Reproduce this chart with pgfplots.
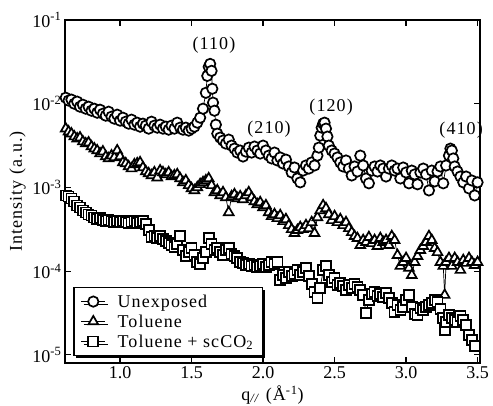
\documentclass[border=0pt]{standalone}
\usepackage{fontspec}
\setmainfont{Liberation Serif}
\newfontfamily\labelfont[LetterSpace=6]{Liberation Serif}
\usepackage{pgfplots}
\pgfplotsset{compat=1.18}
\usetikzlibrary{shadows}

\begin{document}
\begin{tikzpicture}
\path[use as bounding box] (-65bp,-43bp) rectangle (428bp,363bp);
\begin{axis}[
  at={(0,0)}, anchor=south west,
  scale only axis, width=415bp, height=343bp,
  ymode=log,
  xmin=0.615, xmax=3.517, ymin=8e-6, ymax=1e-1,
  xtick={1,1.5,2,2.5,3,3.5},
  xticklabels={1.0,1.5,2.0,2.5,3.0,3.5},
  ytick={1e-5,1e-4,1e-3,1e-2,1e-1},
  yticklabels={10\textsuperscript{-5},10\textsuperscript{-4},10\textsuperscript{-3},10\textsuperscript{-2},10\textsuperscript{-1}},
  yminorticks=false, xminorticks=false,
  tick align=inside, major tick length=6bp,
  axis line style={line width=1.4bp},
  every tick/.style={black, line width=1.2bp},
  tick label style={font=\fontsize{18bp}{21bp}\selectfont},
  label style={font=\labelfont\fontsize{18bp}{21bp}\selectfont},
  xlabel={q\textsubscript{\textit{//}} (Å\textsuperscript{-1})},
  ylabel={Intensity (a.u.)},
  clip=false,
  every axis plot/.append style={black, line width=0.7bp,
    mark options={solid, fill=white, line width=1.7bp}},
  legend style={at={(0.02,0.02)}, anchor=south west, draw=black,
    line width=1.3bp, fill=white,
    font=\labelfont\fontsize{18bp}{21bp}\selectfont,
    drop shadow={shadow xshift=2.5bp, shadow yshift=-2.5bp, fill=black, opacity=1},
    inner xsep=7bp, inner ysep=5bp, row sep=2bp, column sep=10bp},
  legend cell align=left,
  legend image code/.code={\draw[mark repeat=2,mark phase=2]
    plot coordinates {(0bp,0bp) (12bp,0bp) (24bp,0bp)};},
]

% Unexposed film
\addplot[mark=*, mark size=5.2bp] coordinates {
(0.62,1.18e-2)(0.64,1.09e-2)(0.66,1.12e-2)(0.68,1.00e-2)(0.70,1.06e-2)(0.72,9.21e-3)(0.74,9.73e-3)(0.76,8.72e-3)(0.78,9.21e-3)(0.80,8.25e-3)
(0.82,8.72e-3)(0.84,7.81e-3)(0.86,8.48e-3)(0.88,7.60e-3)(0.90,7.20e-3)(0.92,8.03e-3)(0.94,7.00e-3)(0.96,6.63e-3)(0.98,7.40e-3)(1.00,6.28e-3)
(1.02,6.81e-3)(1.04,6.10e-3)(1.06,5.78e-3)(1.08,6.45e-3)(1.10,5.62e-3)(1.12,5.94e-3)(1.14,5.32e-3)(1.16,5.78e-3)(1.18,5.47e-3)(1.20,5.04e-3)
(1.22,6.10e-3)(1.24,5.47e-3)(1.26,5.18e-3)(1.28,5.62e-3)(1.30,5.04e-3)(1.32,5.32e-3)(1.34,4.90e-3)(1.36,5.47e-3)(1.38,5.04e-3)(1.40,5.94e-3)
(1.42,5.18e-3)(1.44,4.90e-3)(1.46,5.18e-3)(1.48,4.77e-3)(1.50,5.04e-3)(1.52,5.32e-3)(1.54,5.94e-3)(1.56,6.81e-3)(1.58,8.72e-3)(1.60,1.35e-2)
(1.61,2.15e-2)(1.62,2.76e-2)(1.63,2.99e-2)(1.64,2.47e-2)(1.645,1.51e-2)(1.65,1.03e-2)(1.66,8.25e-3)(1.67,5.62e-3)(1.68,4.39e-3)(1.70,3.94e-3)
(1.72,3.63e-3)(1.74,3.34e-3)(1.76,3.73e-3)(1.78,3.16e-3)(1.80,2.91e-3)(1.82,2.61e-3)(1.84,2.76e-3)(1.86,2.34e-3)(1.88,2.68e-3)(1.90,2.99e-3)
(1.92,2.61e-3)(1.94,3.08e-3)(1.96,2.76e-3)(1.98,2.54e-3)(2.00,3.16e-3)(2.02,2.76e-3)(2.04,2.40e-3)(2.06,2.22e-3)(2.08,2.61e-3)(2.10,2.10e-3)
(2.12,2.28e-3)(2.14,1.93e-3)(2.16,2.15e-3)(2.18,1.78e-3)(2.20,1.51e-3)(2.22,1.73e-3)(2.24,1.28e-3)(2.26,1.15e-3)(2.28,1.59e-3)(2.30,1.83e-3)
(2.32,1.68e-3)(2.34,1.99e-3)(2.36,1.83e-3)(2.38,2.40e-3)(2.39,2.99e-3)(2.40,4.16e-3)(2.41,5.18e-3)(2.42,5.78e-3)(2.43,5.94e-3)(2.44,5.04e-3)
(2.45,4.05e-3)(2.46,3.16e-3)(2.48,2.76e-3)(2.50,2.54e-3)(2.52,2.28e-3)(2.54,1.99e-3)(2.56,1.78e-3)(2.58,2.10e-3)(2.60,1.68e-3)(2.62,1.39e-3)
(2.64,1.78e-3)(2.66,1.55e-3)(2.68,2.40e-3)(2.70,1.83e-3)(2.72,1.28e-3)(2.74,1.12e-3)(2.76,1.59e-3)(2.78,1.78e-3)(2.80,1.55e-3)(2.82,1.83e-3)
(2.84,1.68e-3)(2.86,1.35e-3)(2.88,1.68e-3)(2.90,1.83e-3)(2.92,1.59e-3)(2.94,1.68e-3)(2.96,1.28e-3)(2.98,1.73e-3)(3.00,1.51e-3)(3.02,1.12e-3)
(3.04,1.59e-3)(3.06,1.43e-3)(3.08,1.09e-3)(3.10,1.51e-3)(3.12,1.68e-3)(3.14,1.43e-3)(3.16,9.21e-4)(3.18,1.59e-3)(3.20,1.18e-3)(3.22,1.55e-3)
(3.24,1.78e-3)(3.26,1.12e-3)(3.28,1.83e-3)(3.30,2.40e-3)(3.31,2.91e-3)(3.32,2.76e-3)(3.33,2.22e-3)(3.34,1.78e-3)(3.36,1.55e-3)(3.38,1.35e-3)
(3.40,1.15e-3)(3.42,1.35e-3)(3.44,9.73e-4)(3.46,1.21e-3)(3.48,8.03e-4)(3.50,1.15e-3)
};
\addlegendentry{Unexposed}

% Toluene-exposed film
\addplot[mark=triangle*, mark size=5.6bp] coordinates {
(0.62,5.04e-3)(0.64,4.64e-3)(0.66,4.39e-3)(0.68,4.05e-3)(0.70,3.83e-3)(0.72,3.94e-3)(0.74,3.53e-3)(0.76,3.34e-3)(0.78,3.43e-3)(0.80,3.08e-3)
(0.82,2.91e-3)(0.84,2.76e-3)(0.86,2.54e-3)(0.88,2.68e-3)(0.90,2.34e-3)(0.92,2.22e-3)(0.94,2.40e-3)(0.96,2.28e-3)(0.98,2.76e-3)(1.00,2.34e-3)
(1.02,1.99e-3)(1.04,1.93e-3)(1.06,1.78e-3)(1.08,1.68e-3)(1.10,1.88e-3)(1.12,1.93e-3)(1.14,1.99e-3)(1.16,1.73e-3)(1.18,1.55e-3)(1.20,1.47e-3)
(1.22,1.39e-3)(1.24,1.51e-3)(1.26,1.31e-3)(1.28,1.59e-3)(1.30,1.51e-3)(1.32,1.43e-3)(1.34,1.51e-3)(1.36,1.35e-3)(1.38,1.39e-3)(1.40,1.43e-3)
(1.42,1.28e-3)(1.44,1.15e-3)(1.46,1.21e-3)(1.48,1.06e-3)(1.50,9.73e-4)(1.52,9.21e-4)(1.54,1.00e-3)(1.56,1.09e-3)(1.58,1.15e-3)(1.60,1.21e-3)
(1.62,1.28e-3)(1.64,1.06e-3)(1.66,8.72e-4)(1.68,9.21e-4)(1.70,8.03e-4)(1.72,8.72e-4)(1.74,7.60e-4)(1.76,5.04e-4)(1.78,7.81e-4)(1.80,8.25e-4)
(1.82,7.40e-4)(1.84,7.81e-4)(1.86,7.20e-4)(1.88,8.03e-4)(1.90,8.72e-4)(1.92,7.60e-4)(1.94,6.81e-4)(1.96,6.28e-4)(1.98,6.63e-4)(2.00,5.78e-4)
(2.02,6.10e-4)(2.04,5.04e-4)(2.06,4.52e-4)(2.08,4.77e-4)(2.10,4.28e-4)(2.12,4.64e-4)(2.14,3.94e-4)(2.16,4.16e-4)(2.18,3.53e-4)(2.20,3.16e-4)
(2.22,2.84e-4)(2.24,3.08e-4)(2.26,3.34e-4)(2.28,3.16e-4)(2.30,3.53e-4)(2.32,3.25e-4)(2.34,3.83e-4)(2.36,2.84e-4)(2.38,4.39e-4)(2.40,5.32e-4)
(2.42,6.10e-4)(2.44,5.62e-4)(2.46,4.77e-4)(2.48,4.05e-4)(2.50,4.52e-4)(2.52,3.83e-4)(2.54,4.16e-4)(2.56,3.53e-4)(2.58,3.83e-4)(2.60,3.25e-4)
(2.62,2.91e-4)(2.64,2.61e-4)(2.66,2.47e-4)(2.68,2.04e-4)(2.70,2.34e-4)(2.72,2.22e-4)(2.74,2.54e-4)(2.76,2.15e-4)(2.78,2.34e-4)(2.80,1.99e-4)
(2.82,2.47e-4)(2.84,2.22e-4)(2.86,2.34e-4)(2.88,2.04e-4)(2.90,2.61e-4)(2.92,2.34e-4)(2.94,1.55e-4)(2.96,1.15e-4)(2.98,1.28e-4)(3.00,1.43e-4)
(3.02,1.09e-4)(3.04,8.96e-5)(3.06,1.28e-4)(3.08,1.51e-4)(3.10,1.78e-4)(3.12,1.99e-4)(3.14,2.22e-4)(3.16,2.61e-4)(3.18,2.34e-4)(3.20,1.88e-4)
(3.22,1.68e-4)(3.24,1.28e-4)(3.26,1.15e-4)(3.27,5.18e-5)(3.28,1.28e-4)(3.30,1.43e-4)(3.32,1.15e-4)(3.34,1.43e-4)(3.36,1.28e-4)(3.38,1.03e-4)
(3.40,1.35e-4)(3.42,1.25e-4)(3.44,1.43e-4)(3.46,1.28e-4)(3.48,1.18e-4)(3.50,1.28e-4)
};
\addlegendentry{Toluene}

% Toluene + supercritical CO2
\addplot[mark=square*, mark size=5.0bp] coordinates {
(0.62,8.03e-4)(0.64,7.81e-4)(0.66,7.40e-4)(0.68,6.81e-4)(0.70,6.10e-4)(0.72,5.78e-4)(0.74,5.32e-4)(0.76,5.04e-4)(0.78,4.77e-4)(0.80,4.64e-4)
(0.82,4.39e-4)(0.84,4.16e-4)(0.86,4.28e-4)(0.88,4.05e-4)(0.90,3.94e-4)(0.92,4.05e-4)(0.94,3.94e-4)(0.96,3.83e-4)(0.98,3.94e-4)(1.00,3.83e-4)
(1.02,3.94e-4)(1.04,3.83e-4)(1.06,3.73e-4)(1.08,3.83e-4)(1.10,3.94e-4)(1.12,3.73e-4)(1.14,3.83e-4)(1.16,3.94e-4)(1.18,3.63e-4)(1.20,3.08e-4)
(1.22,2.54e-4)(1.24,2.61e-4)(1.26,2.47e-4)(1.28,2.61e-4)(1.30,2.40e-4)(1.32,2.28e-4)(1.34,2.15e-4)(1.36,2.04e-4)(1.38,1.93e-4)(1.40,2.10e-4)
(1.42,2.61e-4)(1.44,1.78e-4)(1.46,1.51e-4)(1.48,1.68e-4)(1.50,1.88e-4)(1.52,1.55e-4)(1.54,1.28e-4)(1.56,1.21e-4)(1.58,1.43e-4)(1.60,1.68e-4)
(1.62,2.47e-4)(1.64,2.10e-4)(1.66,1.78e-4)(1.68,1.88e-4)(1.70,1.68e-4)(1.72,1.55e-4)(1.74,1.78e-4)(1.76,1.88e-4)(1.78,1.59e-4)(1.80,1.51e-4)
(1.82,1.43e-4)(1.84,1.28e-4)(1.86,1.25e-4)(1.88,1.18e-4)(1.90,1.21e-4)(1.92,1.15e-4)(1.94,1.18e-4)(1.96,1.12e-4)(1.98,1.15e-4)(2.00,1.21e-4)
(2.02,1.12e-4)(2.04,1.18e-4)(2.06,1.28e-4)(2.08,1.21e-4)(2.10,1.28e-4)(2.12,7.81e-5)(2.14,8.96e-5)(2.16,8.25e-5)(2.18,9.73e-5)(2.20,8.72e-5)
(2.22,9.21e-5)(2.24,1.03e-4)(2.26,8.96e-5)(2.28,9.73e-5)(2.30,1.09e-4)(2.32,8.72e-5)(2.34,7.00e-5)(2.36,5.62e-5)(2.38,4.77e-5)(2.40,6.28e-5)
(2.42,1.03e-4)(2.44,1.15e-4)(2.46,8.96e-5)(2.48,7.40e-5)(2.50,8.25e-5)(2.52,6.81e-5)(2.54,7.20e-5)(2.56,6.63e-5)(2.58,5.94e-5)(2.60,6.81e-5)
(2.62,6.28e-5)(2.64,7.00e-5)(2.66,6.45e-5)(2.68,5.94e-5)(2.70,5.18e-5)(2.72,3.16e-5)(2.74,4.52e-5)(2.76,5.32e-5)(2.78,5.62e-5)(2.80,5.04e-5)
(2.82,5.32e-5)(2.84,4.90e-5)(2.86,5.47e-5)(2.88,4.77e-5)(2.90,4.16e-5)(2.92,3.25e-5)(2.94,3.94e-5)(2.96,3.43e-5)(2.98,3.73e-5)(3.00,4.52e-5)
(3.02,5.18e-5)(3.04,3.73e-5)(3.06,3.08e-5)(3.08,2.99e-5)(3.10,3.63e-5)(3.12,3.43e-5)(3.14,3.73e-5)(3.16,3.94e-5)(3.18,4.16e-5)(3.20,4.52e-5)
(3.22,4.28e-5)(3.24,3.53e-5)(3.26,2.76e-5)(3.27,1.99e-5)(3.28,2.47e-5)(3.30,2.99e-5)(3.32,2.76e-5)(3.34,2.61e-5)(3.36,2.47e-5)(3.38,2.91e-5)
(3.40,2.61e-5)(3.42,2.28e-5)(3.44,1.73e-5)(3.46,1.51e-5)(3.48,1.28e-5)
};
\addlegendentry{Toluene + scCO\textsubscript{2}}

% Reflection indices
\begin{scope}[every node/.style={font=\labelfont\fontsize{18bp}{21bp}\selectfont}]
\node at (axis cs:1.657,5.03e-2) {(110)};
\node at (axis cs:2.042,5.03e-3) {(210)};
\node at (axis cs:2.476,9.2e-3) {(120)};
\node at (axis cs:3.385,4.77e-3) {(410)};
\end{scope}
\end{axis}
\end{tikzpicture}
\end{document}
